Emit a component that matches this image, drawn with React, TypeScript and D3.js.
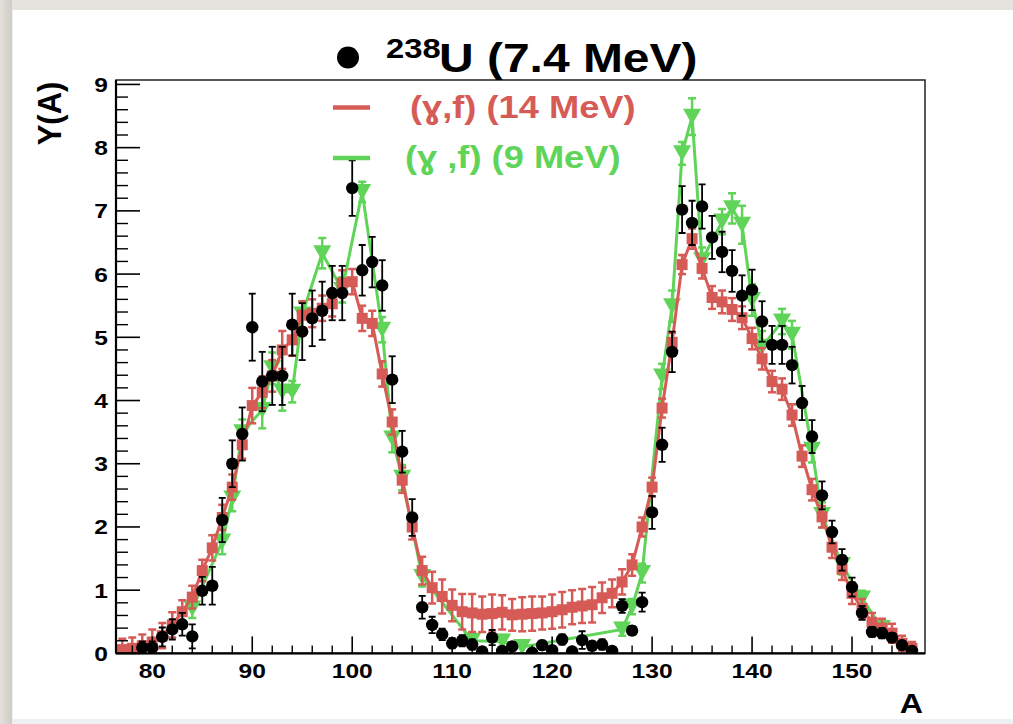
import React from "react";
import * as d3 from "d3";

const W = 1013;
const H = 724;

// 238U (7.4 MeV) data (black circles)
const blackA = [79,80,81,82,83,84,85,86,87,88,89,90,91,92,93,94,95,96,97,98,99,100,101,102,103,104,105,106,107,108,109,110,111,112,113,114,115,116,118,119,120,121,122,123,124,125,126,127,128,129,130,131,132,133,134,135,136,137,138,139,140,141,142,143,144,145,146,147,148,149,150,151,152,153,154,155,156];
const blackY = [0.09,0.09,0.26,0.38,0.46,0.27,0.99,1.07,2.11,3.00,3.47,5.16,4.30,4.39,4.39,5.20,5.09,5.30,5.42,5.70,5.70,7.36,6.06,6.19,5.82,4.33,3.19,2.15,0.73,0.45,0.30,0.16,0.20,0.14,0.03,0.25,0.04,0.11,0.01,0.13,0.05,0.22,0.03,0.21,0.12,0.14,0.04,0.75,0.36,0.81,2.23,3.30,4.77,7.02,6.81,7.07,6.58,6.35,6.05,5.66,5.75,5.25,4.88,4.88,4.56,3.96,3.43,2.50,1.92,1.48,1.05,0.64,0.34,0.32,0.25,0.13,0.04];
const blackErr = [0.10,0.10,0.15,0.16,0.18,0.19,0.22,0.30,0.35,0.37,0.42,0.53,0.47,0.46,0.46,0.49,0.45,0.44,0.46,0.43,0.43,0.44,0.40,0.40,0.40,0.37,0.33,0.29,0.18,0.13,0.09,0.08,0.09,0.08,0.06,0.12,0.06,0.07,0.05,0.07,0.06,0.08,0.05,0.14,0.07,0.08,0.06,0.11,0.07,0.15,0.26,0.27,0.32,0.37,0.35,0.35,0.34,0.32,0.33,0.32,0.32,0.32,0.30,0.30,0.29,0.27,0.26,0.22,0.18,0.17,0.15,0.11,0.08,0.08,0.07,0.06,0.05];

// (γ,f) 14 MeV (red squares)
const redA = [77,78,79,80,81,82,83,84,85,86,87,88,89,90,91,92,93,94,95,96,97,98,99,100,101,102,103,104,105,106,107,108,109,110,111,112,113,114,115,116,117,118,119,120,121,122,123,124,125,126,127,128,129,130,131,132,133,134,135,136,137,138,139,140,141,142,143,144,145,146,147,148,149,150,151,152,153,154,155,156];
const redY = [0.06,0.08,0.12,0.18,0.28,0.45,0.66,0.89,1.31,1.67,2.15,2.63,3.30,3.92,4.13,4.39,4.80,4.96,5.35,5.38,5.46,5.53,5.86,5.88,5.30,5.22,4.42,3.66,2.74,2.00,1.31,1.04,0.90,0.76,0.66,0.64,0.62,0.63,0.65,0.61,0.62,0.63,0.64,0.66,0.69,0.73,0.75,0.77,0.88,0.95,1.13,1.40,2.00,2.63,3.88,4.92,6.15,6.56,6.09,5.63,5.56,5.44,5.31,4.98,4.66,4.30,4.18,3.77,3.12,2.59,2.16,1.68,1.33,0.95,0.71,0.49,0.40,0.32,0.16,0.08];
const redErr = [0.17,0.17,0.18,0.20,0.20,0.20,0.18,0.18,0.17,0.20,0.20,0.20,0.22,0.28,0.25,0.25,0.30,0.25,0.22,0.22,0.20,0.20,0.20,0.20,0.20,0.20,0.20,0.20,0.20,0.20,0.22,0.25,0.27,0.25,0.28,0.30,0.28,0.30,0.27,0.25,0.27,0.27,0.26,0.27,0.28,0.27,0.27,0.28,0.24,0.22,0.20,0.17,0.15,0.15,0.15,0.15,0.15,0.16,0.16,0.18,0.18,0.18,0.18,0.17,0.17,0.17,0.17,0.17,0.17,0.17,0.17,0.17,0.17,0.17,0.15,0.15,0.15,0.15,0.12,0.10];

// (γ,f) 9 MeV (green triangles)
const greenA = [84,87,88,89,91,92,93,94,95,97,99,101,103,104,105,107,112,115,117,127,128,129,131,132,133,134,135,137,138,139,140,141,143,144,146,147,149,151,153];
const greenY = [0.71,1.77,2.45,3.50,3.85,4.51,4.14,4.14,5.36,6.33,5.75,7.30,5.12,3.40,2.78,1.21,0.20,0.19,0.10,0.38,0.74,1.27,4.38,5.49,7.91,8.49,6.22,6.83,7.04,6.78,5.59,4.85,5.25,5.04,3.22,2.19,1.40,0.87,0.40];
const greenErr = [0.15,0.20,0.20,0.20,0.29,0.25,0.30,0.17,0.20,0.24,0.20,0.16,0.20,0.22,0.20,0.15,0.10,0.10,0.10,0.10,0.12,0.15,0.20,0.25,0.18,0.29,0.20,0.20,0.24,0.30,0.25,0.25,0.20,0.22,0.20,0.20,0.15,0.12,0.10];

const xMajor = [80, 90, 100, 110, 120, 130, 140, 150];
const yMajor = [0, 1, 2, 3, 4, 5, 6, 7, 8, 9];

const RED = "#d65b57";
const GREEN = "#5fd458";

const FONT = "'Liberation Sans', Arial, Helvetica, sans-serif";
const SX = 1.17;

const X0 = 116, X1 = 925, Y0 = 80, Y1 = 653.4;

function SText(props: { x: number; y: number; size: number; fill?: string; anchor?: string; children: React.ReactNode; sx?: number }) {
  const { x, y, size, fill = "#000", anchor = "start", children, sx = SX } = props;
  return (
    <g transform={`translate(${x},${y}) scale(${sx},1)`}>
      <text x={0} y={0} fontSize={size} fontWeight="bold" fill={fill} textAnchor={anchor as any} fontFamily={FONT}>
        {children}
      </text>
    </g>
  );
}

export default function App() {
  const x = d3.scaleLinear().domain([76.37, 157.3]).range([X0, X1]);
  const y = d3.scaleLinear().domain([0, 9.07]).range([Y1, Y0]);

  const xMinor = d3.range(78, 157, 2).filter((v) => v % 10 !== 0);
  const yMinor = d3.range(0, 9.05, 0.2).filter((v) => Math.abs(v - Math.round(v)) > 0.01);

  const line = d3
    .line<[number, number]>()
    .x((d) => x(d[0]))
    .y((d) => y(d[1]));

  const redPts: [number, number][] = redA.map((a, i) => [a, redY[i]]);
  const greenPts: [number, number][] = greenA.map((a, i) => [a, greenY[i]]);

  const errBars = (A: number[], Y: number[], E: number[], color: string, sw: number, cap: number) =>
    A.map((a, i) => {
      const cx = x(a);
      const yt = y(Y[i] + E[i]);
      const yb = y(Y[i] - E[i]);
      return (
        <g key={i} stroke={color} strokeWidth={sw}>
          <line x1={cx} x2={cx} y1={yt} y2={yb} />
          <line x1={cx - cap / 2} x2={cx + cap / 2} y1={yt} y2={yt} />
          <line x1={cx - cap / 2} x2={cx + cap / 2} y1={yb} y2={yb} />
        </g>
      );
    });

  const tri = (cx: number, cy: number, w = 18, h = 16) =>
    `M${cx - w / 2},${cy - h / 2}L${cx + w / 2},${cy - h / 2}L${cx},${cy + h / 2}Z`;

  return (
    <svg width={W} height={H} style={{ position: "absolute", left: 0, top: 0 }} xmlns="http://www.w3.org/2000/svg">
      <defs>
        <clipPath id="plotclip">
          <rect x={X0} y={Y0} width={X1 - X0} height={Y1 - Y0} />
        </clipPath>
        <linearGradient id="leftbg" x1="0" x2="1" y1="0" y2="0">
          <stop offset="0" stopColor="#e4e1dc" />
          <stop offset="1" stopColor="#cfccc6" />
        </linearGradient>
      </defs>
      <rect x={0} y={0} width={W} height={H} fill="#e6e3de" />
      <rect x={0} y={0} width={12} height={H} fill="url(#leftbg)" />
      <rect x={12} y={10} width={W - 12} height={710} fill="#ffffff" />
      <rect x={12} y={719} width={W - 12} height={5} fill="#eef1f1" />
      <line x1={12.5} x2={12.5} y1={10} y2={720} stroke="#eef2f3" strokeWidth={1} />

      {/* data */}
      <g clipPath="url(#plotclip)">
        {/* green */}
        <path d={line(greenPts) || ""} fill="none" stroke={GREEN} strokeWidth={3} />
        {errBars(greenA, greenY, greenErr, GREEN, 2.5, 8)}
        {greenA.map((a, i) => (
          <path key={i} d={tri(x(a), y(greenY[i]))} fill={GREEN} />
        ))}
        {/* red */}
        <path d={line(redPts) || ""} fill="none" stroke={RED} strokeWidth={3} />
        {errBars(redA, redY, redErr, RED, 2.5, 8)}
        {redA.map((a, i) => (
          <rect key={i} x={x(a) - 5.5} y={y(redY[i]) - 5.5} width={11} height={11} fill={RED} />
        ))}
        {/* black */}
        {errBars(blackA, blackY, blackErr, "#000", 1.8, 7)}
        {blackA.map((a, i) => (
          <circle key={i} cx={x(a)} cy={y(blackY[i])} r={6.2} fill="#000" />
        ))}
      </g>

      {/* frame */}
      <rect x={X0} y={Y0} width={X1 - X0} height={Y1 - Y0} fill="none" stroke="#222" strokeWidth={1.5} />
      <line x1={X0} x2={X0} y1={Y0} y2={Y1} stroke="#000" strokeWidth={2.2} />
      <line x1={X0} x2={X1} y1={Y1} y2={Y1} stroke="#000" strokeWidth={2.2} />

      {/* y ticks */}
      {yMajor.map((v) => (
        <g key={"ym" + v}>
          <line x1={X0} x2={X0 + 24} y1={y(v)} y2={y(v)} stroke="#000" strokeWidth={1.6} />
          <SText x={108} y={y(v) + 7.5} size={21} anchor="end">{String(v)}</SText>
        </g>
      ))}
      {yMinor.map((v, i) => (
        <line key={"yn" + i} x1={X0} x2={X0 + 12} y1={y(v)} y2={y(v)} stroke="#000" strokeWidth={1.4} />
      ))}

      {/* x ticks */}
      {xMajor.map((v) => (
        <g key={"xm" + v}>
          <line x1={x(v)} x2={x(v)} y1={Y1} y2={Y1 - 17} stroke="#000" strokeWidth={1.6} />
          <SText x={x(v)} y={678} size={21} anchor="middle">{String(v)}</SText>
        </g>
      ))}
      {xMinor.map((v) => (
        <line key={"xn" + v} x1={x(v)} x2={x(v)} y1={Y1} y2={Y1 - 8} stroke="#000" strokeWidth={1.4} />
      ))}

      {/* axis titles */}
      <g transform="translate(61,113.5) scale(1.1,1) rotate(-90)">
        <text x={0} y={0} fontSize={31} fontWeight="bold" textAnchor="middle" fontFamily={FONT}>Y(A)</text>
      </g>
      <SText x={923} y={713} size={28} anchor="end" sx={1.15}>A</SText>

      {/* legend */}
      <circle cx={348} cy={57.5} r={11} fill="#000" />
      <SText x={386} y={58} size={28}>238</SText>
      <SText x={439} y={72} size={41}>U (7.4 MeV)</SText>

      <line x1={333} x2={370} y1={107.5} y2={107.5} stroke={RED} strokeWidth={4.5} />
      <SText x={410} y={117.5} size={31} fill={RED}>(ɣ,f) (14 MeV)</SText>

      <line x1={333} x2={370} y1={158} y2={158} stroke={GREEN} strokeWidth={4.5} />
      <SText x={405} y={168} size={31} fill={GREEN}>(ɣ ,f) (9 MeV)</SText>
    </svg>
  );
}
